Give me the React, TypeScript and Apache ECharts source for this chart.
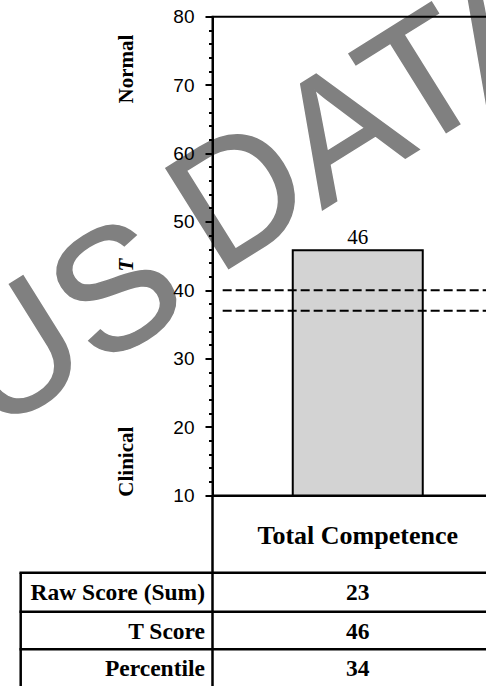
import React, { useEffect, useRef } from "react";
import * as echarts from "echarts";

// ---- data ----
const categories = ["Total Competence"];
const tScores = [46];
const cutoffValues = [40, 37];
const cutoffSpan = [0.035, 1];
const yMin = 10;
const yMax = 80;
const yInterval = 10;
const rangeLabels = ["Normal", "Clinical"];
const axisTitle = "T";
const tableRowLabels = ["Raw Score (Sum)", "T Score", "Percentile"];
const tableRowValues = ["23", "46", "34"];
const watermarkWords = ["US", "DATA"];

const SERIF = '"Liberation Serif", "Times New Roman", Times, serif';
const SANS = '"Liberation Sans", Arial, Helvetica, sans-serif';

export default function App() {
  const ref = useRef<HTMLDivElement>(null);

  useEffect(() => {
    if (!ref.current) return;
    const chart = echarts.init(ref.current, undefined, { renderer: "svg" });

    const gridLeft = 212.5;
    const gridTop = 16.7;
    const gridHeight = 478.8;
    const gridWidth = 290.5;
    const axisBottom = gridTop + gridHeight;
    const tableLeft = 20.7;
    const tableRight = 530;
    const rowEdges = [572.7, 611.7, 649.3, 687.5];
    const valueX = gridLeft + gridWidth / 2;
    const lw = 2.5;

    const graphics: any[] = [];

    const wmAnchors = [
      [-40, 384],
      [185, 225],
    ];
    watermarkWords.forEach((w, i) => {
      graphics.push({
        type: "text",
        z: -10,
        x: wmAnchors[i][0],
        y: wmAnchors[i][1],
        rotation: 0.5585,
        silent: true,
        style: {
          text: w,
          fontSize: 172,
          fontFamily: SANS,
          fontWeight: "normal",
          fill: "#808080",
          stroke: "#808080",
          lineWidth: 1.5,
          textAlign: "left",
          verticalAlign: "middle",
        },
      });
    });

    const sideY = [69, 461.7];
    rangeLabels.forEach((t, i) => {
      graphics.push({
        type: "text",
        x: 125.5,
        y: sideY[i],
        rotation: Math.PI / 2,
        style: {
          text: t,
          fontSize: 21,
          fontWeight: "bold",
          fontFamily: SERIF,
          fill: "#000",
          textAlign: "center",
          verticalAlign: "middle",
        },
      });
    });
    graphics.push({
      type: "text",
      x: 125.5,
      y: 265,
      rotation: Math.PI / 2,
      style: {
        text: axisTitle,
        fontSize: 21,
        fontWeight: "bold",
        fontStyle: "italic",
        fontFamily: SERIF,
        fill: "#000",
        textAlign: "center",
        verticalAlign: "middle",
      },
    });

    // table lines
    graphics.push({
      type: "line",
      shape: { x1: gridLeft, y1: axisBottom, x2: gridLeft, y2: 690 },
      style: { stroke: "#000", lineWidth: lw },
    });
    graphics.push({
      type: "line",
      shape: { x1: tableLeft, y1: rowEdges[0], x2: tableLeft, y2: 690 },
      style: { stroke: "#000", lineWidth: lw },
    });
    rowEdges.slice(0, 3).forEach((y) => {
      graphics.push({
        type: "line",
        shape: { x1: tableLeft - lw / 2, y1: y, x2: tableRight, y2: y },
        style: { stroke: "#000", lineWidth: lw },
      });
    });
    tableRowLabels.forEach((t, i) => {
      const cy = (rowEdges[i] + rowEdges[i + 1]) / 2;
      graphics.push({
        type: "text",
        x: 205,
        y: cy,
        style: {
          text: t,
          fontSize: 23.5,
          fontWeight: "bold",
          fontFamily: SERIF,
          fill: "#000",
          textAlign: "right",
          verticalAlign: "middle",
        },
      });
      graphics.push({
        type: "text",
        x: valueX,
        y: cy,
        style: {
          text: tableRowValues[i],
          fontSize: 23.5,
          fontWeight: "bold",
          fontFamily: SERIF,
          fill: "#000",
          textAlign: "center",
          verticalAlign: "middle",
        },
      });
    });

    chart.setOption({
      animation: false,
      backgroundColor: "#fff",
      grid: {
        left: gridLeft,
        top: gridTop,
        width: gridWidth,
        height: gridHeight,
        show: true,
        borderColor: "#000",
        borderWidth: 2,
        backgroundColor: "transparent",
        containLabel: false,
      },
      xAxis: [
        {
          type: "category",
          data: categories,
          axisLine: { show: true, lineStyle: { color: "#000", width: 2 } },
          axisTick: { show: false },
          splitLine: { show: false },
          axisLabel: {
            color: "#000",
            fontFamily: SERIF,
            fontWeight: "bold",
            fontSize: 26,
            margin: 27,
          },
        },
        { type: "value", min: 0, max: 1, show: false },
      ],
      yAxis: {
        type: "value",
        min: yMin,
        max: yMax,
        interval: yInterval,
        axisLine: { show: true, lineStyle: { color: "#000", width: 2 } },
        axisTick: { show: true, length: 7, lineStyle: { color: "#000", width: 2 } },
        minorTick: { show: true, splitNumber: 5, length: 3.5, lineStyle: { color: "#000", width: 2 } },
        splitLine: { show: false },
        minorSplitLine: { show: false },
        axisLabel: { color: "#000", fontFamily: SANS, fontSize: 19, margin: 18 },
      },
      series: [
        {
          type: "bar",
          data: tScores,
          barWidth: 132,
          itemStyle: { color: "#d3d3d3", borderColor: "#000", borderWidth: 2 },
          label: {
            show: true,
            position: "top",
            distance: 2,
            color: "#000",
            fontFamily: SERIF,
            fontWeight: "normal",
            fontSize: 21,
          },
          silent: true,
        },
        ...cutoffValues.map((v) => ({
          type: "line",
          xAxisIndex: 1,
          yAxisIndex: 0,
          data: cutoffSpan.map((x) => [x, v]),
          symbol: "none",
          silent: true,
          z: 3,
          lineStyle: { color: "#000", width: 2, type: [9, 4] },
        })),
      ],
      graphic: graphics,
    });

    return () => chart.dispose();
  }, []);

  return (
    <div
      style={{ position: "absolute", left: 0, top: 0, width: 486, height: 686, overflow: "hidden" }}
    >
      <div ref={ref} style={{ width: 540, height: 686 }} />
    </div>
  );
}
